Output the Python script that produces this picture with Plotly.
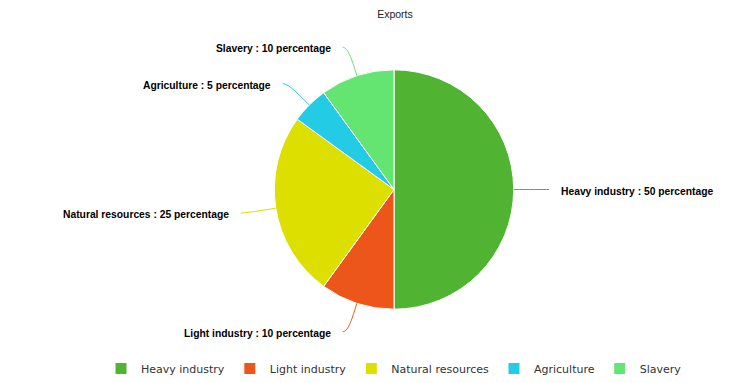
import math
import plotly.graph_objects as go

title = "Exports"
categories = ["Heavy industry", "Light industry", "Natural resources", "Agriculture", "Slavery"]
values = [50, 10, 25, 5, 10]
colors = ["#50B432", "#ED561B", "#DDDF00", "#24CBE5", "#64E572"]
unit = "percentage"

OFF = 8                      # page body margin in the browser
W, H = 748 - OFF, 383 - OFF  # figure size
CX, CY, R = 394, 190, 120    # pie center / radius in window pixels
DIST = 30                    # label distance

def px(x):
    return (x - OFF) / W

def py(y):
    return 1 - (y - OFF) / H

fig = go.Figure(go.Pie(
    labels=categories, values=values, sort=False, direction="clockwise", rotation=0,
    marker=dict(colors=colors, line=dict(color="white", width=1)),
    textinfo="none", hoverinfo="label+value",
    domain=dict(x=[px(CX - R), px(CX + R)], y=[py(CY + R), py(CY - R)]),
))

total = sum(values)
cum = 0
annotations = []
shapes = []
for cat, v, col in zip(categories, values, colors):
    mid = (cum + v / 2) / total * 2 * math.pi
    cum += v
    sx, sy = math.sin(mid), -math.cos(mid)
    side = 1 if sx >= 0 else -1
    ex, ey = CX + R * sx, CY + R * sy
    ly = CY + (R + DIST) * sy
    lx = CX + (R + DIST) * sx
    endx = lx + side * 5
    c1x, c1y = CX + (R + 14) * sx, CY + (R + 14) * sy
    c2x, c2y = endx - side * 6, ly
    path = (f"M {px(ex)},{py(ey)} C {px(c1x)},{py(c1y)} {px(c2x)},{py(c2y)} "
            f"{px(endx)},{py(ly)}")
    shapes.append(dict(type="path", path=path, xref="paper", yref="paper",
                       line=dict(color=col, width=1)))
    annotations.append(dict(
        x=px(lx + side * 15), y=py(ly + 1.5), xref="paper", yref="paper",
        text=f"<b>{cat} : {v} {unit}</b>", showarrow=False,
        xanchor="left" if side > 0 else "right", yanchor="middle",
        font=dict(family="Liberation Sans, Arial, sans-serif", size=10.3, color="#000000"),
    ))

fig.update_layout(
    width=W, height=H,
    margin=dict(l=0, r=0, t=0, b=0),
    paper_bgcolor="white", plot_bgcolor="white",
    title=dict(text=title, x=px(395), y=py(14), xanchor="center", yanchor="middle",
               font=dict(family="Liberation Sans, Arial, sans-serif", size=10.5, color="#222222")),
    showlegend=True,
    legend=dict(orientation="h", x=px(394), y=py(369), xanchor="center", yanchor="middle",
                font=dict(family="DejaVu Sans, Verdana, sans-serif", size=11, color="#333333"),
                itemclick=False),
    annotations=annotations,
    shapes=shapes,
)

fig.write_html("out.html")
